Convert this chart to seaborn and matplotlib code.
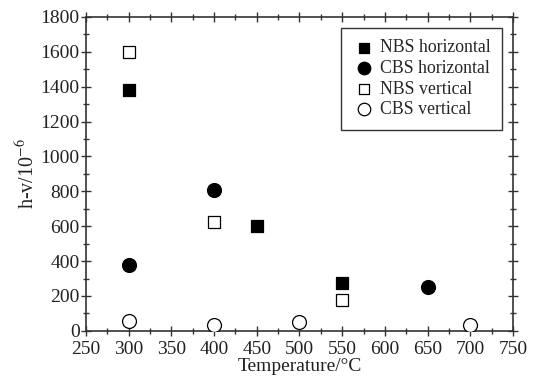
import pandas as pd
import seaborn as sns
import matplotlib.pyplot as plt
from matplotlib.ticker import MultipleLocator

# data
nbs_h_t = [300, 450, 550]
nbs_h_v = [1380, 600, 275]
cbs_h_t = [300, 400, 650]
cbs_h_v = [375, 805, 250]
nbs_v_t = [300, 400, 550]
nbs_v_v = [1600, 625, 175]
cbs_v_t = [300, 400, 500, 700]
cbs_v_v = [55, 35, 50, 35]

sns.set_style('ticks')
plt.rcParams['font.family'] = ['Liberation Serif', 'DejaVu Serif']
plt.rcParams['mathtext.fontset'] = 'stix'

fig = plt.figure(figsize=(5.44, 3.76), dpi=100)
ax = fig.add_axes([0.158, 0.12, 0.785, 0.835])

series = [
    ('NBS horizontal', nbs_h_t, nbs_h_v, 's', 'black', 75),
    ('CBS horizontal', cbs_h_t, cbs_h_v, 'o', 'black', 100),
    ('NBS vertical', nbs_v_t, nbs_v_v, 's', 'white', 75),
    ('CBS vertical', cbs_v_t, cbs_v_v, 'o', 'white', 100),
]
for name, t, v, m, fc, s in series:
    df = pd.DataFrame({'T': t, 'v': v})
    sns.scatterplot(data=df, x='T', y='v', marker=m, s=s, color=fc,
                    edgecolor='black', linewidth=0.9, label=name, ax=ax, zorder=3)

ax.set_xlim(250, 750)
ax.set_ylim(0, 1800)
ax.xaxis.set_major_locator(MultipleLocator(50))
ax.xaxis.set_minor_locator(MultipleLocator(25))
ax.yaxis.set_major_locator(MultipleLocator(200))
ax.yaxis.set_minor_locator(MultipleLocator(100))
ax.tick_params(which='both', direction='inout', top=True, right=True,
               labelsize=14, width=1, colors='#333333', labelcolor='#222222')
ax.tick_params(which='major', length=7)
ax.tick_params(which='minor', length=4)
ax.tick_params(axis='x', pad=4)
ax.tick_params(axis='y', pad=1)
for sp in ax.spines.values():
    sp.set_linewidth(1.2)
    sp.set_color('#333333')

ax.set_xlabel('Temperature/°C', fontsize=14, labelpad=0, color='#222222')
ax.set_ylabel('h-v/10$^{-6}$', fontsize=14.5, labelpad=1, color='#222222')

leg = ax.legend(loc='upper right', bbox_to_anchor=(0.974, 0.965), fontsize=12.8,
                frameon=True, fancybox=False, edgecolor='black', borderaxespad=0,
                handletextpad=0.3, labelspacing=0.2, borderpad=0.65,
                handlelength=1.2, markerscale=0.9)
leg.get_frame().set_linewidth(1.0)

plt.savefig('out.png', dpi=100)
